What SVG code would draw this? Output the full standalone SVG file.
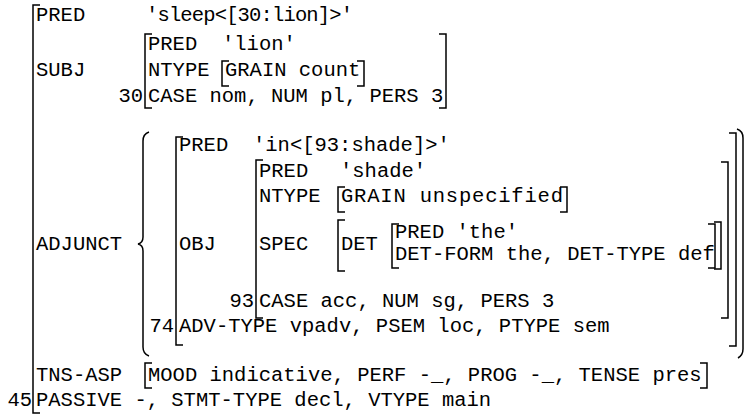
<svg xmlns="http://www.w3.org/2000/svg" width="745" height="418" viewBox="0 0 745 418">
<style>
text{font-family:"Liberation Mono","Courier New",monospace;font-size:20.5px;fill:#000}
.br{fill:none;stroke:#000;stroke-width:1.5}
.num{text-anchor:end}
</style>
<rect width="745" height="418" fill="#fff"/>
<g id="connectors">
<path class="br" d="M40,5 H33 V413 H40"/>
<path class="br" d="M152,34 H145 V108 H152"/>
<path class="br" d="M439,34 H446 V108 H439"/>
<path class="br" d="M229,61 H222 V86 H229"/>
<path class="br" d="M357,61 H364 V86 H357"/>
<path class="br" d="M149,132 Q143,134 143,141 V237 Q143,243 138,244 Q143,245 143,251 V347 Q143,354 149,356"/>
<path class="br" d="M737,129 Q743,131 743,138 V349 Q743,355 738,358"/>
<path class="br" d="M183,137 H176 V345 H183"/>
<path class="br" d="M729,133 H736 V346 H729"/>
<path class="br" d="M263,160 H256 V318 H263"/>
<path class="br" d="M721,162 H728 V318 H721"/>
<path class="br" d="M345,187 H338 V212 H345"/>
<path class="br" d="M560,187 H567 V212 H560"/>
<path class="br" d="M345,220 H338 V271 H345"/>
<path class="br" d="M714,222 H721 V269 H714"/>
<path class="br" d="M399,224 H392 V268 H399"/>
<path class="br" d="M708,224 H715 V268 H708"/>
<path class="br" d="M152,363 H145 V388 H152"/>
<path class="br" d="M700,363 H707 V388 H700"/>
</g>
<g id="f45">
<text x="36" y="21">PRED</text>
<text x="146" y="21" textLength="207" lengthAdjust="spacing">'sleep&lt;[30:lion]&gt;'</text>
<text x="36" y="76">SUBJ</text>
<text x="36" y="250">ADJUNCT</text>
<text x="36" y="381">TNS-ASP</text>
<text class="num" x="32" y="406">45</text>
<text x="36" y="406">PASSIVE -, STMT-TYPE decl, VTYPE main</text>
</g>
<g id="f30">
<text x="148" y="50">PRED</text>
<text x="222" y="50">'lion'</text>
<text x="148" y="76">NTYPE</text>
<text x="225" y="76">GRAIN count</text>
<text class="num" x="143" y="102">30</text>
<text x="148" y="102">CASE nom, NUM pl, PERS 3</text>
</g>
<g id="f74">
<text x="179" y="151">PRED</text>
<text x="253" y="151">'in&lt;[93:shade]&gt;'</text>
<text x="179" y="250">OBJ</text>
<text class="num" x="174" y="332">74</text>
<text x="179" y="332">ADV-TYPE vpadv, PSEM loc, PTYPE sem</text>
</g>
<g id="f93">
<text x="259" y="177">PRED</text>
<text x="340" y="177">'shade'</text>
<text x="259" y="202">NTYPE</text>
<text x="341" y="202" textLength="222" lengthAdjust="spacing">GRAIN unspecified</text>
<text x="259" y="250">SPEC</text>
<text class="num" x="254" y="307">93</text>
<text x="259" y="307">CASE acc, NUM sg, PERS 3</text>
</g>
<g id="fdet">
<text x="341" y="250">DET</text>
<text x="395" y="238">PRED 'the'</text>
<text x="395" y="260">DET-FORM the, DET-TYPE def</text>
</g>
<g id="tns">
<text x="148" y="381">MOOD indicative, PERF -_, PROG -_, TENSE pres</text>
</g>
</svg>
